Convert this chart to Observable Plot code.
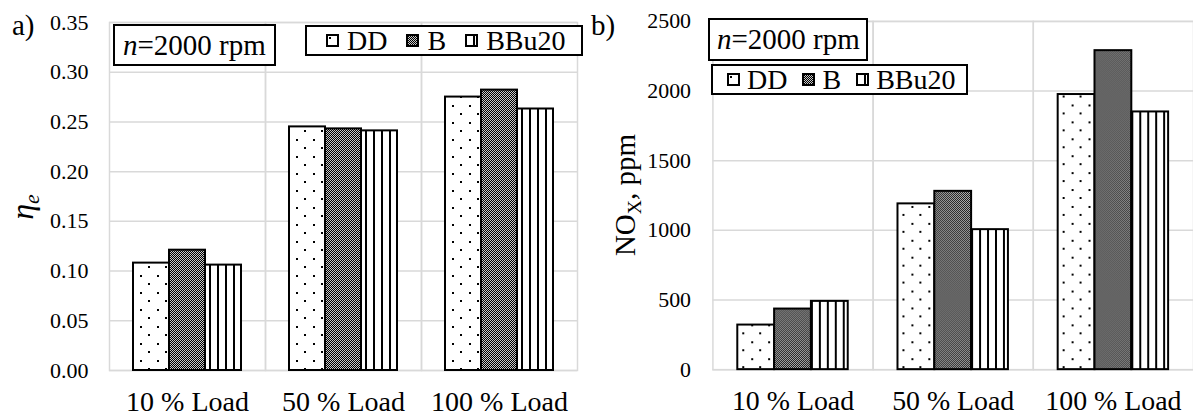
<!DOCTYPE html>
<html><head><meta charset="utf-8">
<script src="https://cdn.jsdelivr.net/npm/d3@7"></script>
<script src="https://cdn.jsdelivr.net/npm/@observablehq/plot@0.6"></script>
<style>
body{margin:0;background:#fff;font-family:"Liberation Serif","Tinos","Times New Roman","Nimbus Roman","DejaVu Serif",serif;color:#000}
#root{position:relative;width:1193px;height:418px;overflow:hidden;background:#fff}
.abs{position:absolute;line-height:1;white-space:nowrap}
.box{position:absolute;box-sizing:border-box;border:2px solid #000;background:#fff;display:flex;align-items:center;line-height:1;white-space:nowrap}
.item{display:flex;align-items:center}
.sw{width:13px;height:13px;display:block;flex:none}
sub{font-size:0.68em;vertical-align:baseline;position:relative;top:0.28em}
</style></head><body>
<div id="root"></div>
<script>
// ---- data ----
const loads = ["10 % Load", "50 % Load", "100 % Load"];
const fuels = ["DD", "B", "BBu20"];
const effDD    = [0.108, 0.245, 0.275];
const effB     = [0.121, 0.243, 0.282];
const effBBu20 = [0.106, 0.241, 0.263];
const noxDD    = [320, 1190, 1975];
const noxB     = [435, 1280, 2290];
const noxBBu20 = [490, 1005, 1850];
const effTicks = [0, 0.05, 0.10, 0.15, 0.20, 0.25, 0.30, 0.35];
const noxTicks = [0, 500, 1000, 1500, 2000, 2500];
const speedLabel = "2000 rpm";

const FONT = '"Liberation Serif", "Tinos", "Times New Roman", "Nimbus Roman", "DejaVu Serif", serif';
const patterns = ["url(#pDD)", "url(#pB)", "url(#pBBu)"];
const root = document.getElementById("root");

// pattern definitions
const NS = "http://www.w3.org/2000/svg";
const defsSvg = document.createElementNS(NS, "svg");
defsSvg.setAttribute("width", 0); defsSvg.setAttribute("height", 0);
defsSvg.style.position = "absolute";
defsSvg.innerHTML = `<defs>
<pattern id="pDD" patternUnits="userSpaceOnUse" width="17" height="17">
  <rect width="17" height="17" fill="#fff"/>
  <rect x="3" y="3" width="2" height="2" fill="#000"/>
  <rect x="11" y="11" width="2" height="2" fill="#000"/>
</pattern>
<pattern id="pB" patternUnits="userSpaceOnUse" width="2" height="2">
  <rect width="2" height="2" fill="#c8c8c8"/>
  <rect x="0" y="0" width="1" height="1" fill="#000"/>
  <rect x="1" y="1" width="1" height="1" fill="#000"/>
</pattern>
<pattern id="pBBu" patternUnits="userSpaceOnUse" width="8" height="8">
  <rect width="8" height="8" fill="#fff"/>
  <rect x="0" y="0" width="2" height="8" fill="#000"/>
</pattern></defs>`;
root.appendChild(defsSvg);

function panel({series, domain, ticks, fmt, width, marginLeft, marginRight, marginTop, marginBottom, tickPadding}) {
  const data = loads.flatMap((l, i) => fuels.map((f, j) => ({load: l, fuel: f, value: series[j][i]})));
  return Plot.plot({
    width, height: 418, marginLeft, marginRight, marginTop, marginBottom,
    style: {fontFamily: FONT, fontSize: "22px", color: "#000", background: "transparent", overflow: "visible"},
    fx: {domain: loads, padding: 0, label: null},
    x: {domain: fuels, axis: null, paddingInner: 0, paddingOuter: 0.66},
    y: {domain, label: null},
    color: {domain: fuels, range: patterns},
    marks: [
      Plot.ruleY(ticks, {stroke: "#d9d9d9", strokeWidth: 1.5}),
      Plot.frame({stroke: "#d9d9d9", strokeWidth: 1.5}),
      Plot.barY(data, {fx: "load", x: "fuel", y: "value", fill: "fuel", stroke: "#000", strokeWidth: 2}),
      Plot.axisY({ticks, tickSize: 0, tickPadding, tickFormat: fmt, fontSize: 22, label: null}),
      Plot.axisFx({anchor: "bottom", tickSize: 0, tickPadding: 21, fontSize: 28, label: null})
    ]
  });
}

const a = panel({series: [effDD, effB, effBBu20], domain: [0, 0.35], ticks: effTicks, fmt: d3.format(".2f"),
  width: 596, marginLeft: 108, marginRight: 19, marginTop: 22, marginBottom: 48, tickPadding: 21});
const b = panel({series: [noxDD, noxB, noxBBu20], domain: [0, 2500], ticks: noxTicks, fmt: d3.format("d"),
  width: 600, marginLeft: 117, marginRight: 0, marginTop: 21, marginBottom: 47, tickPadding: 22});
const wa = document.createElement("div"); wa.style.cssText = "position:absolute;left:0;top:0"; wa.appendChild(a); root.appendChild(wa);
const wb = document.createElement("div"); wb.style.cssText = "position:absolute;left:596px;top:0"; wb.appendChild(b); root.appendChild(wb);

function el(html, css, cls = "abs") {
  const d = document.createElement("div"); d.className = cls; d.style.cssText = css; d.innerHTML = html; root.appendChild(d); return d;
}
// panel letters
el("a)", "left:12px;top:11px;font-size:29px");
el("b)", "left:591px;top:11px;font-size:29px");
// axis titles
el("<i>η</i><sub><i>e</i></sub>", "left:22px;top:207px;font-size:32px;transform:translate(-50%,-50%) rotate(-90deg)");
el("NO<sub>X</sub>, ppm", "left:625px;top:195px;font-size:29px;transform:translate(-50%,-50%) rotate(-90deg)");
// speed boxes
el(`<i>n</i>=${speedLabel}`, "left:113px;top:24px;width:163px;height:42px;padding-left:8px;font-size:29px", "box");
el(`<i>n</i>=${speedLabel}`, "left:708px;top:18px;width:160px;height:43px;padding-left:7px;font-size:29px", "box");
// legends
function legend(css, pad, gapSw, gapItem) {
  const box = el("", css + `;padding-left:${pad}px;font-size:28px`, "box");
  fuels.forEach((f, i) => {
    const it = document.createElement("div"); it.className = "item";
    if (i > 0) it.style.marginLeft = gapItem + "px";
    it.innerHTML = `<svg class="sw" width="13" height="13"><rect x="1" y="1" width="11" height="11" fill="${patterns[i]}" stroke="#000" stroke-width="2"/></svg><span style="margin-left:${gapSw}px">${f}</span>`;
    box.appendChild(it);
  });
}
legend("left:305px;top:25px;width:278px;height:31px", 19, 8, 19);
legend("left:711px;top:64px;width:257px;height:31px", 14, 7, 15);
</script>
</body></html>
